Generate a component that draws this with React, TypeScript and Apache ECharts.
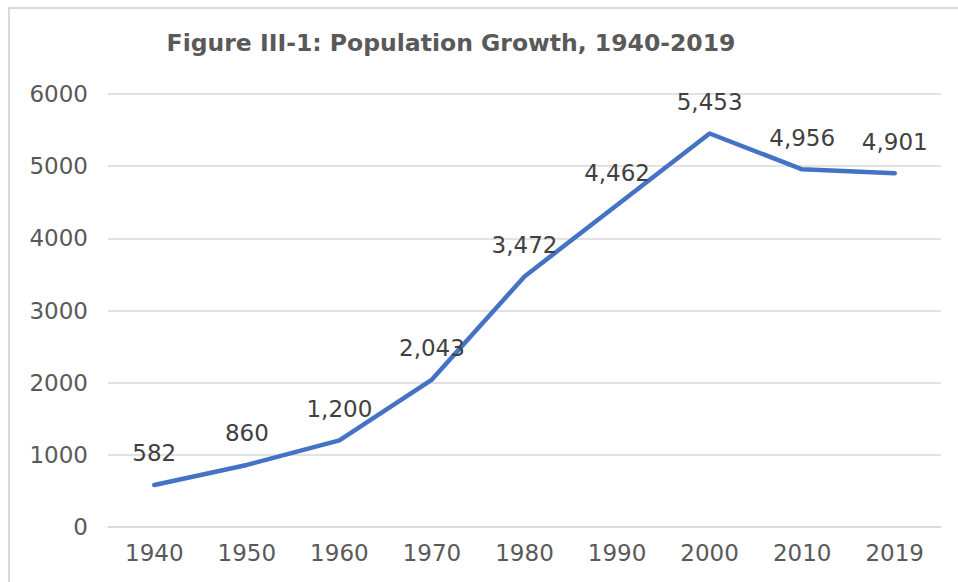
import React, { useEffect, useRef } from "react";
import * as echarts from "echarts";

const years = ["1940", "1950", "1960", "1970", "1980", "1990", "2000", "2010", "2019"];
const population = [582, 860, 1200, 2043, 3472, 4462, 5453, 4956, 4901];
const titleText = "Figure III-1: Population Growth, 1940-2019";

export default function App() {
  const ref = useRef<HTMLDivElement>(null);
  useEffect(() => {
    const chart = echarts.init(ref.current!, null, { renderer: "svg" });
    chart.setOption({
      animation: false,
      backgroundColor: "#ffffff",
      graphic: [
        {
          type: "rect",
          shape: { x: 9, y: 8, width: 960, height: 600 },
          style: { fill: "none", stroke: "#d9d9d9", lineWidth: 2 },
          silent: true,
        },
      ],
      title: {
        text: titleText,
        left: 446,
        top: 26,
        textAlign: "center",
        textStyle: {
          fontFamily: "DejaVu Sans",
          fontWeight: "bold",
          fontSize: 23.5,
          color: "#595959",
        },
      },
      grid: { left: 108, right: 17, top: 94, bottom: 55, containLabel: false },
      xAxis: {
        type: "category",
        data: years,
        boundaryGap: true,
        axisLine: { show: true, lineStyle: { color: "#d9d9d9", width: 1.5 } },
        axisTick: { show: false },
        axisLabel: {
          fontFamily: "DejaVu Sans",
          fontSize: 23,
          color: "#595959",
          margin: 14,
        },
      },
      yAxis: {
        type: "value",
        min: 0,
        max: 6000,
        interval: 1000,
        axisLine: { show: false },
        axisTick: { show: false },
        splitLine: { lineStyle: { color: "#d9d9d9", width: 1.5 } },
        axisLabel: {
          fontFamily: "DejaVu Sans",
          fontSize: 23,
          color: "#595959",
          margin: 20,
          formatter: (v: number) => String(v),
        },
      },
      series: [
        {
          type: "line",
          data: population,
          symbol: "circle",
          symbolSize: 0.1,
          showSymbol: true,
          lineStyle: { color: "#4472C4", width: 4.5, cap: "round", join: "round" },
          itemStyle: { color: "#4472C4" },
          label: {
            show: true,
            position: "top",
            distance: 20,
            fontFamily: "DejaVu Sans",
            fontSize: 23,
            color: "#404040",
            formatter: (p: any) => Number(p.value).toLocaleString("en-US"),
          },
        },
      ],
    });
    return () => chart.dispose();
  }, []);
  return (
    <div
      ref={ref}
      style={{ position: "fixed", left: 0, top: 0, width: 958, height: 582 }}
    />
  );
}
